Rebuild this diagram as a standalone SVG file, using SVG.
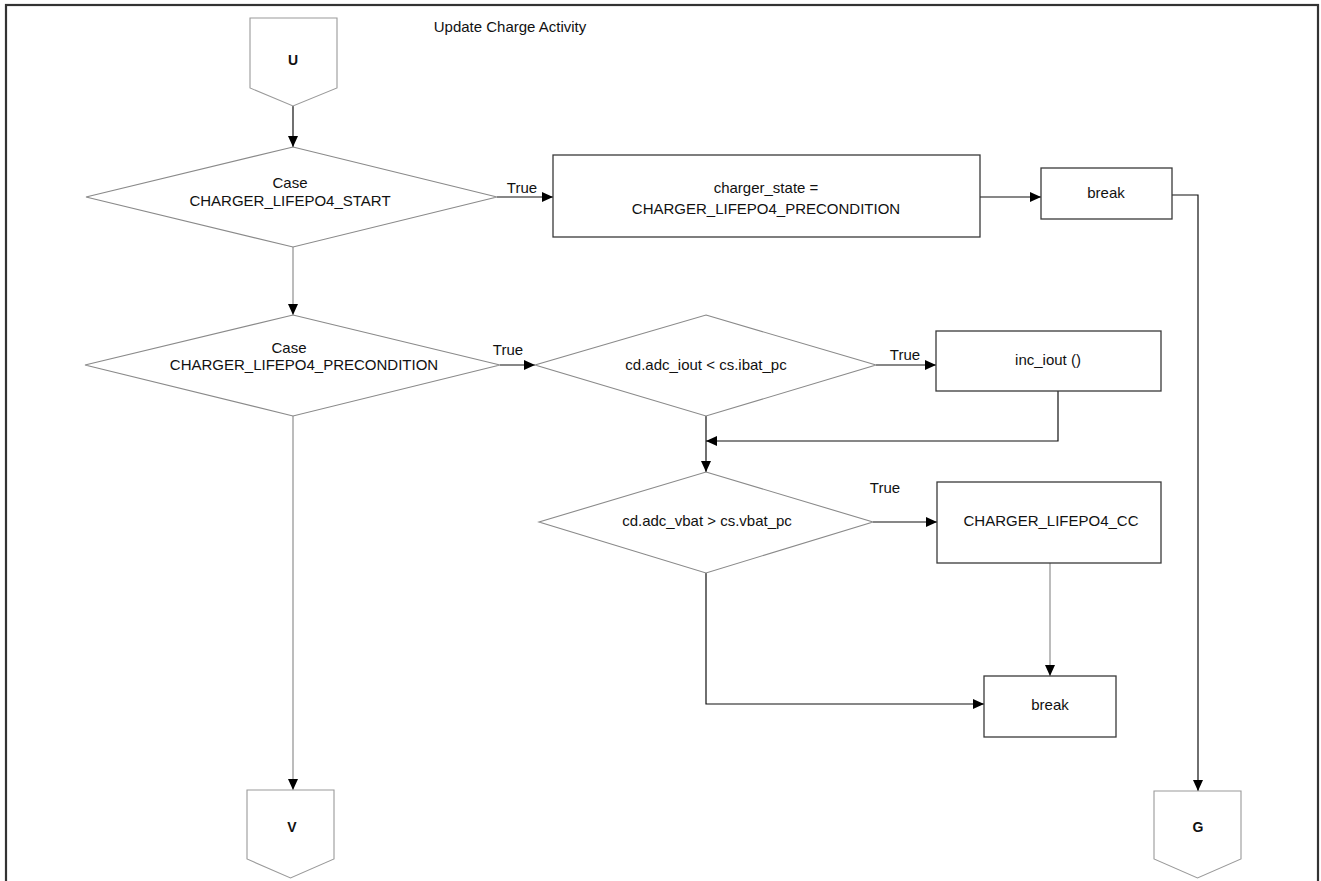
<svg xmlns="http://www.w3.org/2000/svg" width="1321" height="881" viewBox="0 0 1321 881">
<defs>
<marker id="arr" markerUnits="userSpaceOnUse" markerWidth="11" markerHeight="10" refX="11" refY="5" orient="auto">
<path d="M0,0 L11,5 L0,10 z" fill="#000"/>
</marker>
<style>
text{font-family:"Liberation Sans",Arial,sans-serif;font-size:15px;fill:#111;text-anchor:middle}
.lbl{font-weight:bold;font-size:14px}
.box{fill:#fff;stroke:#3a3a3a;stroke-width:1.3}
.dia{fill:#fff;stroke:#8a8a8a;stroke-width:1.1}
.off{fill:#fff;stroke:#9a9a9a;stroke-width:1.1}
.ln{fill:none;stroke:#111;stroke-width:1.2}
.lg{fill:none;stroke:#8f8f8f;stroke-width:1.2}
</style>
</defs>
<rect x="6" y="5" width="1312" height="900" fill="#fff" stroke="#333" stroke-width="2.2"/>
<text x="510" y="32">Update Charge Activity</text>

<g id="connectors">
<path class="ln" d="M293,106 V147" marker-end="url(#arr)"/>
<path class="ln" d="M497,197 H553" marker-end="url(#arr)"/>
<path class="ln" d="M980,197 H1041" marker-end="url(#arr)"/>
<path class="ln" d="M1172,195 H1198 V791" marker-end="url(#arr)"/>
<path class="lg" d="M293,247 V315" marker-end="url(#arr)"/>
<path class="lg" d="M293,416 V790" marker-end="url(#arr)"/>
<path class="ln" d="M500,365 H535" marker-end="url(#arr)"/>
<path class="ln" d="M876,365 H936" marker-end="url(#arr)"/>
<path class="ln" d="M1058,391 V441 H706" marker-end="url(#arr)"/>
<path class="ln" d="M706,416 V472" marker-end="url(#arr)"/>
<path class="ln" d="M873,522 H937" marker-end="url(#arr)"/>
<path class="lg" d="M1050,563 V676" marker-end="url(#arr)"/>
<path class="ln" d="M706,573 V704 H984" marker-end="url(#arr)"/>
<text x="522" y="193">True</text>
<text x="508" y="355">True</text>
<text x="905" y="360">True</text>
<text x="885" y="493">True</text>
</g>

<g id="U">
<path class="off" d="M250,18 H337 V88 L293,106 L250,88 Z"/>
<text class="lbl" x="293" y="65">U</text>
</g>

<g id="case_start">
<path class="dia" d="M293,147 L497,197 L293,247 L86,197 Z"/>
<text x="290" y="188">Case</text>
<text x="290" y="206">CHARGER_LIFEPO4_START</text>
</g>

<g id="set_state">
<rect class="box" x="553" y="155" width="427" height="82"/>
<text x="766" y="193">charger_state =</text>
<text x="766" y="214">CHARGER_LIFEPO4_PRECONDITION</text>
</g>

<g id="break1">
<rect class="box" x="1041" y="168" width="131" height="51"/>
<text x="1106" y="198">break</text>
</g>

<g id="case_precondition">
<path class="dia" d="M293,315 L500,365 L293,416 L85,365 Z"/>
<text x="289" y="353">Case</text>
<text x="304" y="370">CHARGER_LIFEPO4_PRECONDITION</text>
</g>

<g id="check_iout">
<path class="dia" d="M706,315 L876,365 L706,416 L535,365 Z"/>
<text x="706" y="370">cd.adc_iout &lt; cs.ibat_pc</text>
</g>

<g id="inc_iout">
<rect class="box" x="936" y="331" width="225" height="60"/>
<text x="1048" y="365">inc_iout ()</text>
</g>

<g id="check_vbat">
<path class="dia" d="M706,472 L873,522 L706,573 L539,522 Z"/>
<text x="707" y="526">cd.adc_vbat &gt; cs.vbat_pc</text>
</g>

<g id="cc">
<rect class="box" x="937" y="482" width="224" height="81"/>
<text x="1051" y="526">CHARGER_LIFEPO4_CC</text>
</g>

<g id="break2">
<rect class="box" x="984" y="676" width="132" height="61"/>
<text x="1050" y="710">break</text>
</g>

<g id="V">
<path class="off" d="M247,790 H334 V859 L290.5,878 L247,859 Z"/>
<text class="lbl" x="292" y="832">V</text>
</g>

<g id="G">
<path class="off" d="M1154,791 H1241 V859 L1197.5,878 L1154,859 Z"/>
<text class="lbl" x="1198" y="832">G</text>
</g>
</svg>
